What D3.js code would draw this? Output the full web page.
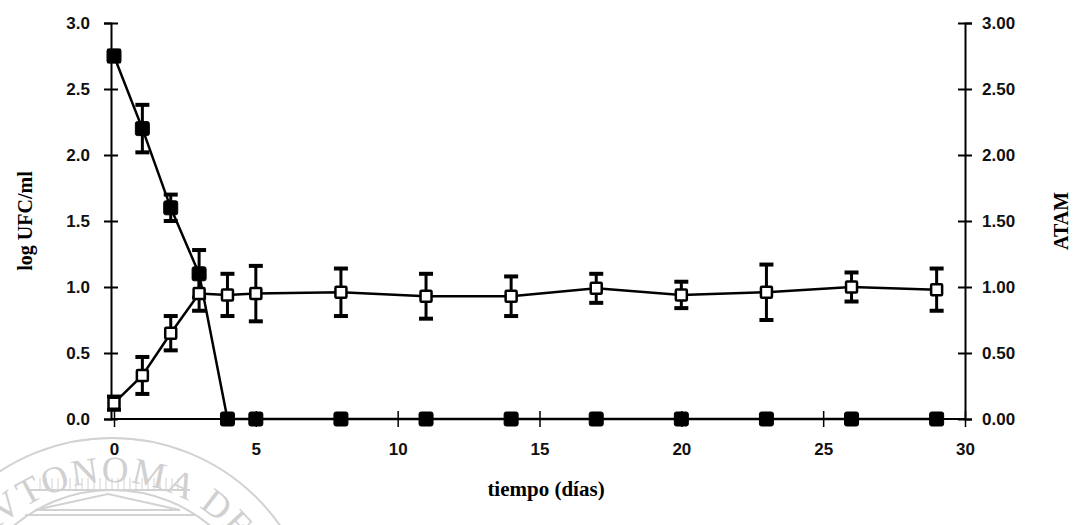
<!DOCTYPE html>
<html>
<head>
<meta charset="utf-8">
<script src="https://cdn.jsdelivr.net/npm/d3@7"></script>
<style>
  body { margin: 0; background: #fff; }
  svg { display: block; }
  .tick text { font-family: "Liberation Sans", Arial, sans-serif; font-weight: bold; font-size: 17px; fill: #111; }
</style>
</head>
<body>
<div id="viz"></div>
<script>
// tiempo (días)
const days = [0, 1, 2, 3, 4, 5, 8, 11, 14, 17, 20, 23, 26, 29];
// log UFC/ml (filled squares, left axis)
const logUFC    = [2.75, 2.2, 1.6, 1.1, 0, 0, 0, 0, 0, 0, 0, 0, 0, 0];
const logUFCErr = [0.04, 0.18, 0.1, 0.18, 0, 0, 0, 0, 0, 0, 0, 0, 0, 0];
// ATAM (open squares, right axis)
const atam    = [0.12, 0.33, 0.65, 0.95, 0.94, 0.95, 0.96, 0.93, 0.93, 0.99, 0.94, 0.96, 1.0, 0.98];
const atamErr = [0.05, 0.14, 0.13, 0.13, 0.16, 0.21, 0.18, 0.17, 0.15, 0.11, 0.1, 0.21, 0.11, 0.16];

const xTicks = [0, 5, 10, 15, 20, 25, 30];
const yTicks = [0, 0.5, 1, 1.5, 2, 2.5, 3];

const width = 1080, height = 525;
const leftX = 111, rightX = 965, topY = 23, bottomY = 419;

let svg = d3.select("#viz").append("svg")
  .attr("width", width)
  .attr("height", height);

let xScale = d3.scaleLinear().domain([0, 30]).range([114, rightX]);
let yLeft = d3.scaleLinear().domain([0, 3]).range([bottomY, topY]);
let yRight = d3.scaleLinear().domain([0, 3]).range([bottomY, topY]);

// watermark (seal), very light
let wm = svg.append("g").attr("fill", "none").attr("stroke", "#d2d2d2").attr("stroke-width", 2);
let cx = 112, cy = 643;
wm.append("circle").attr("cx", cx).attr("cy", cy).attr("r", 205);
wm.append("circle").attr("cx", cx).attr("cy", cy).attr("r", 153);
svg.append("defs").append("path")
  .attr("id", "sealArc")
  .attr("d", `M ${cx - 161} ${cy} A 161 161 0 0 1 ${cx + 161} ${cy}`);
svg.append("text")
  .attr("font-family", "Liberation Serif, serif")
  .attr("font-size", 37)
  .attr("fill", "#d0d0d0")
  .append("textPath")
  .attr("href", "#sealArc")
  .attr("startOffset", "50%")
  .attr("text-anchor", "middle")
  .attr("letter-spacing", 2)
  .text("AVTONOMA DE");
// pediment of the building
wm.append("path").attr("d", "M 35 510 L 108 494 L 180 510 Z");
wm.append("line").attr("x1", 25).attr("x2", 195).attr("y1", 515).attr("y2", 515);
wm.append("line").attr("x1", 30).attr("x2", 190).attr("y1", 490).attr("y2", 490);
for (let i = 0; i < 24; i++) {
  wm.append("line").attr("x1", 40 + i * 6).attr("x2", 40 + i * 6)
    .attr("y1", 478).attr("y2", 490).attr("stroke-width", 1);
}

// axes
let xAxis = svg.append("g")
  .attr("transform", `translate(0,${bottomY})`)
  .call(d3.axisBottom(xScale).tickValues(xTicks).tickSizeOuter(0).tickSize(8).tickPadding(16).tickFormat(d3.format("d")));
xAxis.select(".domain").attr("d", `M${leftX},0H${rightX}`).attr("stroke-width", 2);
xAxis.selectAll(".tick line").attr("y1", -8).attr("stroke-width", 1.5);

let leftAxis = svg.append("g")
  .attr("transform", `translate(${leftX},0)`)
  .call(d3.axisLeft(yLeft).tickValues(yTicks).tickSizeOuter(0).tickSize(7).tickPadding(14).tickFormat(d3.format(".1f")));
leftAxis.select(".domain").attr("stroke-width", 2);
leftAxis.selectAll(".tick line").attr("x1", 7).attr("stroke-width", 2);

let rightAxis = svg.append("g")
  .attr("transform", `translate(${rightX},0)`)
  .call(d3.axisRight(yRight).tickValues(yTicks).tickSizeOuter(0).tickSize(7).tickPadding(10).tickFormat(d3.format(".2f")));
rightAxis.select(".domain").attr("stroke-width", 2);
rightAxis.selectAll(".tick line").attr("x1", -7).attr("stroke-width", 2);

// series data
let ufcData = days.map((d, i) => ({ day: d, v: logUFC[i], e: logUFCErr[i] }));
let atamData = days.map((d, i) => ({ day: d, v: atam[i], e: atamErr[i] }));

function drawSeries(data, yScale, filled) {
  let g = svg.append("g");
  g.append("path")
    .datum(data)
    .attr("fill", "none")
    .attr("stroke", "#000")
    .attr("stroke-width", 2.5)
    .attr("d", d3.line().x(d => xScale(d.day)).y(d => yScale(d.v)));

  let eb = g.selectAll(".err")
    .data(data.filter(d => d.e > 0))
    .enter().append("g");
  eb.append("line")
    .attr("x1", d => xScale(d.day)).attr("x2", d => xScale(d.day))
    .attr("y1", d => yScale(d.v + d.e)).attr("y2", d => yScale(d.v - d.e))
    .attr("stroke", "#000").attr("stroke-width", 3);
  eb.append("line")
    .attr("x1", d => xScale(d.day) - 7).attr("x2", d => xScale(d.day) + 7)
    .attr("y1", d => yScale(d.v + d.e)).attr("y2", d => yScale(d.v + d.e))
    .attr("stroke", "#000").attr("stroke-width", 4);
  eb.append("line")
    .attr("x1", d => xScale(d.day) - 7).attr("x2", d => xScale(d.day) + 7)
    .attr("y1", d => yScale(d.v - d.e)).attr("y2", d => yScale(d.v - d.e))
    .attr("stroke", "#000").attr("stroke-width", 4);

  let s = filled ? 14 : 11;
  g.selectAll("rect")
    .data(data)
    .enter().append("rect")
    .attr("x", d => xScale(d.day) - s / 2)
    .attr("y", d => yScale(d.v) - s / 2)
    .attr("width", s).attr("height", s)
    .attr("rx", filled ? 2 : 1)
    .attr("fill", filled ? "#000" : "#fff")
    .attr("stroke", "#000")
    .attr("stroke-width", filled ? 1 : 2.5);
}

drawSeries(ufcData, yLeft, true);
drawSeries(atamData, yRight, false);

// titles
svg.append("text")
  .attr("transform", `translate(32,${(topY + bottomY) / 2}) rotate(-90)`)
  .attr("text-anchor", "middle")
  .attr("font-family", "Liberation Serif, 'Times New Roman', serif")
  .attr("font-weight", "bold")
  .attr("font-size", 20)
  .text("log UFC/ml");

svg.append("text")
  .attr("transform", `translate(1068,${(topY + bottomY) / 2}) rotate(-90)`)
  .attr("text-anchor", "middle")
  .attr("font-family", "Liberation Serif, 'Times New Roman', serif")
  .attr("font-weight", "bold")
  .attr("font-size", 20)
  .text("ATAM");

svg.append("text")
  .attr("x", 546)
  .attr("y", 496)
  .attr("text-anchor", "middle")
  .attr("font-family", "Liberation Serif, 'Times New Roman', serif")
  .attr("font-weight", "bold")
  .attr("font-size", 21)
  .text("tiempo (días)");
</script>
</body>
</html>
